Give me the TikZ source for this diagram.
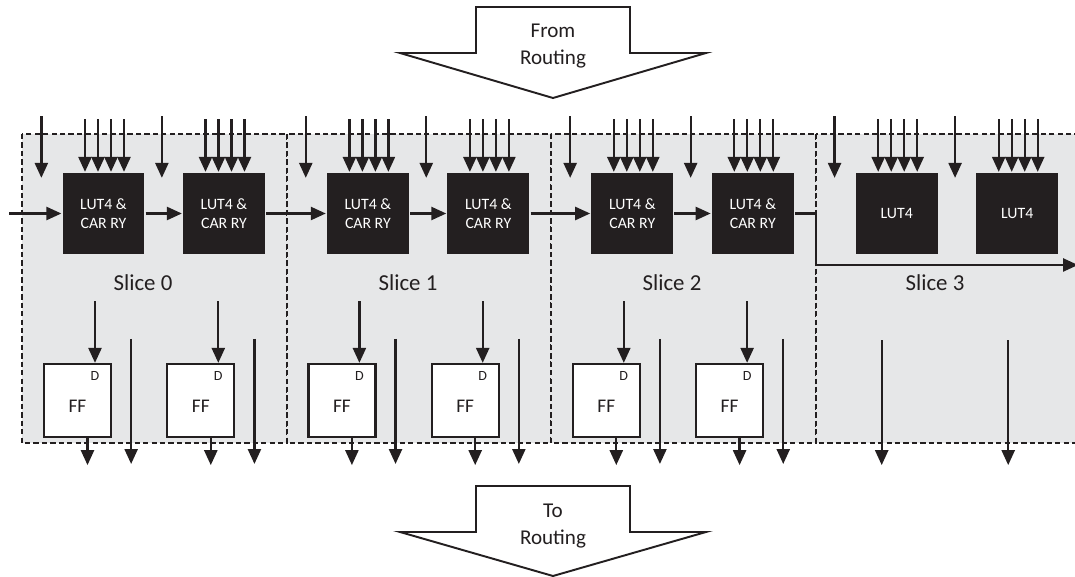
\documentclass[tikz,border=0pt]{standalone}
\usepackage{fontspec}
\setmainfont{Carlito}
\usetikzlibrary{arrows.meta}

\definecolor{slicegray}{RGB}{230,231,232}
\definecolor{lutblack}{RGB}{35,31,32}
\newcommand{\lutcarry}{LUT4 \&\\CAR RY}

\begin{document}
\begin{tikzpicture}[
        x=0.02cm, y=-0.02cm,
        >={Triangle[length=8.5pt,width=7.4pt]},
        line width=1.3pt, draw=lutblack,
        every node/.append style={inner sep=0pt, text=lutblack},
        slicebox/.style={fill=slicegray, draw=lutblack, dash pattern=on 3pt off 1.8pt, line width=1.2pt},
        lut/.style={rectangle, fill=lutblack, text=white, minimum width=1.64cm, minimum height=1.62cm, align=center, font=\fontsize{9}{10.5}\selectfont},
        ff/.style={rectangle, draw=lutblack, fill=white, line width=1.3pt, minimum width=1.34cm, minimum height=1.46cm},
        fftext/.style={font=\fontsize{11}{13}\selectfont},
        dpin/.style={font=\fontsize{8}{9}\selectfont},
        routing/.style={draw=lutblack, fill=white, line width=1.1pt},
        routingtext/.style={align=center, font=\fontsize{12}{15.5}\selectfont}
    ]
        \useasboundingbox (0,0) rectangle (1075,577);

        % slices
        \foreach \xa/\xb in {22/287, 287/551, 551/816, 816/1090}
            \draw[slicebox] (\xa,134) rectangle (\xb,443);
        \foreach \s/\x in {0/143, 1/408, 2/672, 3/935}
            \node[font=\fontsize{13}{15}\selectfont] (label\s) at (\x,283) {Slice \s};

        % LUTs and their inputs
        \foreach \s/\txt in {0/\lutcarry, 1/\lutcarry, 2/\lutcarry, 3/LUT4} {
            \pgfmathsetmacro\o{\s*264.4}
            \node[lut] (lutA\s) at (103.5+\o,213.5) {\txt};
            \node[lut] (lutB\s) at (224+\o,213.5) {\txt};
            \foreach \n in {A,B} {
                \draw[<-] (lut\n\s.north west) ++(-20,6) -- ++(0,-62);
                \foreach \d in {-18.5,-5.5,7.5,20.5}
                    \draw[<-] (lut\n\s.north) ++(\d,0) -- ++(0,-53);
            }
        }

        % flip-flops
        \foreach \s in {0,1,2} {
            \pgfmathsetmacro\o{\s*264.4}
            \node[ff] (ffA\s) at (77.5+\o,400.5) {};
            \node[ff] (ffB\s) at (200.8+\o,400.5) {};
            \foreach \n in {A,B} {
                \node[fftext] (fftext\n\s) at ([yshift=-0.11cm]ff\n\s.center) {FF};
                \path (ff\n\s.center) ++(17.5,-25) node[dpin] (d\n\s) {D};
                \draw[<-] (ff\n\s.north -| d\n\s.center) -- ++(0,-62);
                \draw[->] (ff\n\s.south) ++(10,0) -- ++(0,27);
                \draw[->] (ff\n\s.east) ++(19,-61.5) -- ++(0,125);
            }
        }
        \draw[->] (lutA3.south) ++(-15,85) -- ++(0,125);
        \draw[->] (lutB3.south) ++(-9,85) -- ++(0,125);

        % carry chain
        \coordinate (cin) at (9,213.5);
        \coordinate (cturn) at (816,265);
        \coordinate (cout) at (1078,265);
        \draw[->] (cin) -- (lutA0.west);
        \foreach \a/\b in {lutA0/lutB0, lutB0/lutA1, lutA1/lutB1, lutB1/lutA2, lutA2/lutB2}
            \draw[->] (\a.east) -- (\b.west);
        \draw[->] (lutB2.east) -| (cturn) -- (cout);

        % routing arrows
        \draw[routing] (400,53) -- (476,53) -- (476,7) -- (630,7) -- (630,53) -- (706,53) -- (553,98) -- cycle;
        \node[routingtext] (from) at (553,46) {From\\Routing};
        \draw[routing] (400,532) -- (476,532) -- (476,486) -- (630,486) -- (630,532) -- (706,532) -- (553,576) -- cycle;
        \node[routingtext] (to) at (553,526) {To\\Routing};
    \end{tikzpicture}
\end{document}
